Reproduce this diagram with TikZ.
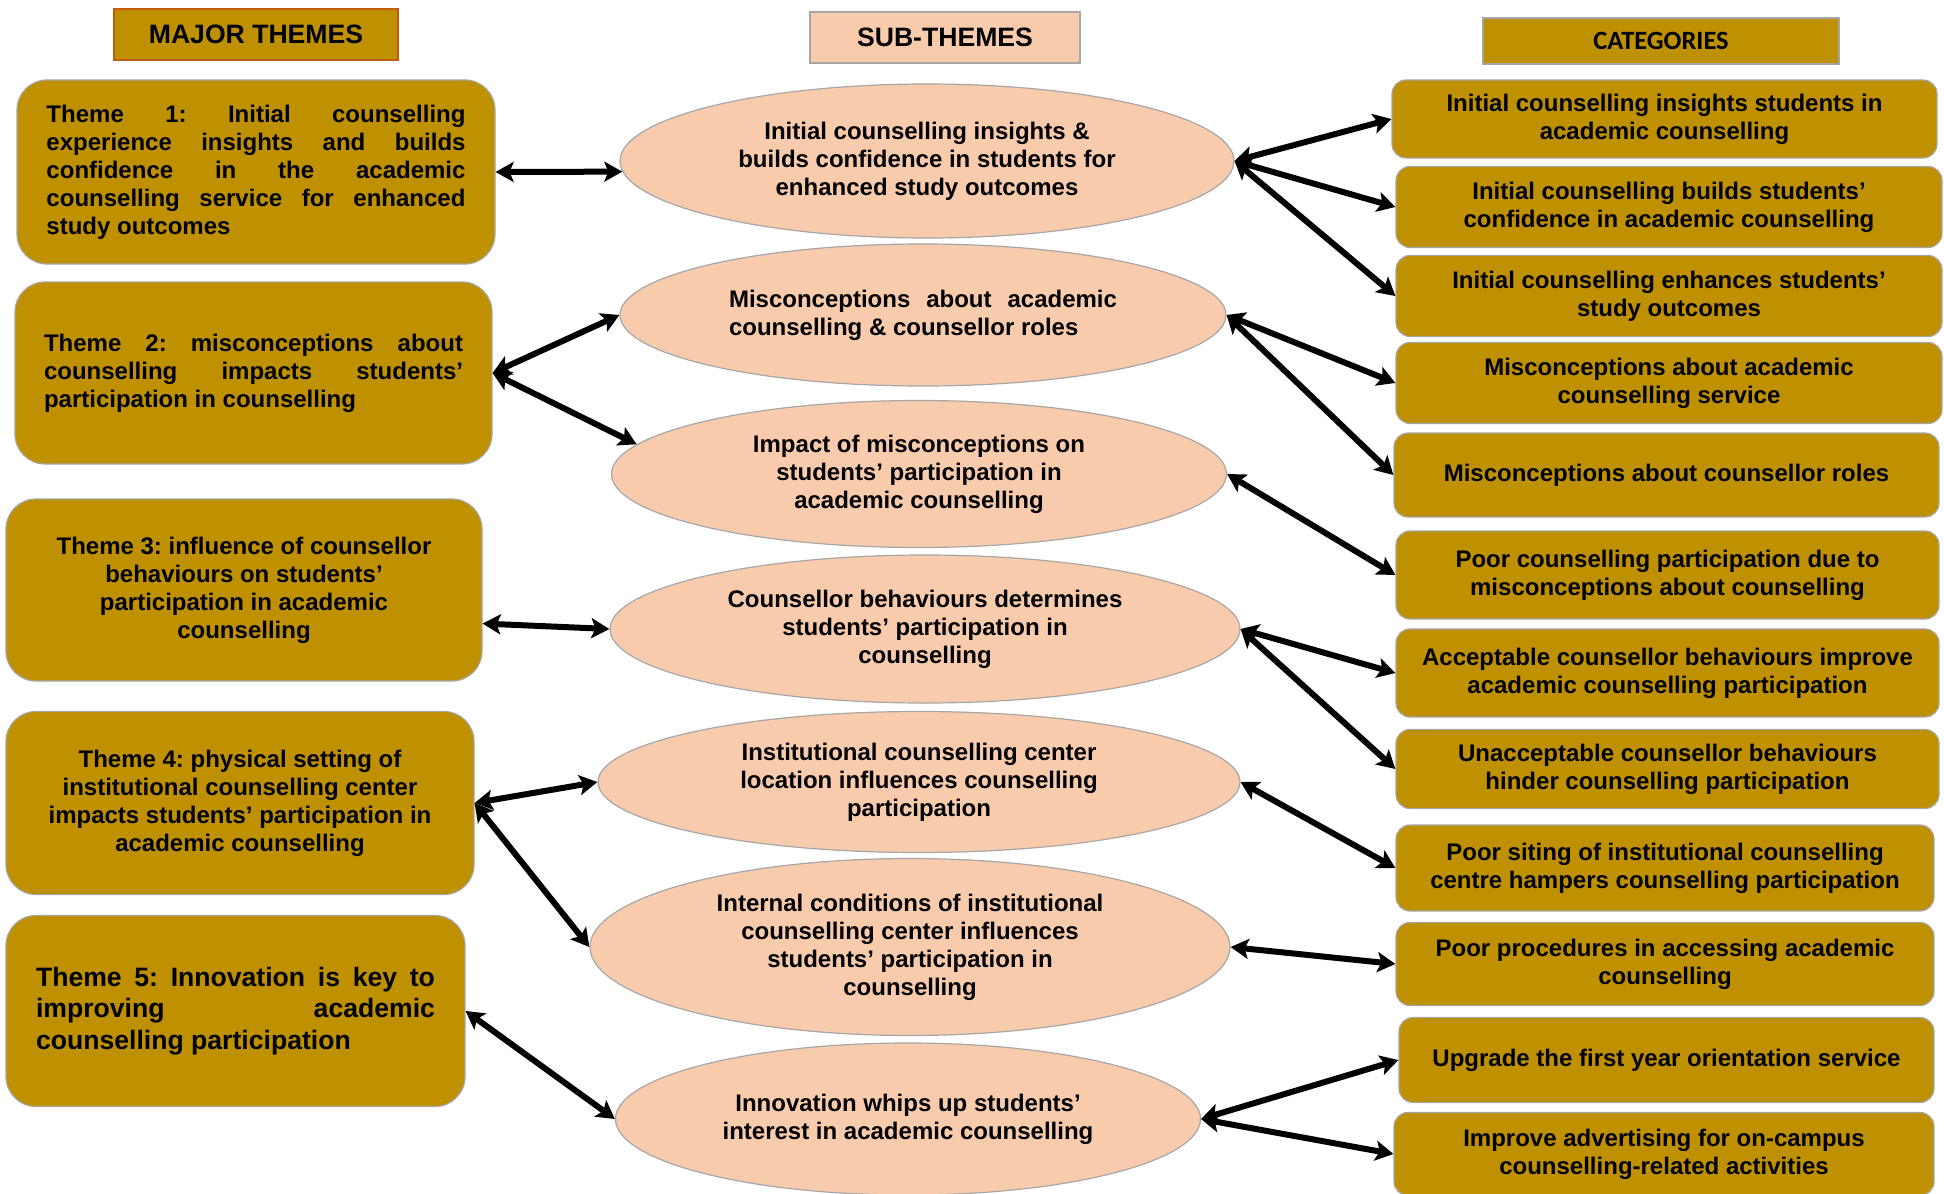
\documentclass[tikz,border=0pt]{standalone}
\usepackage{fontspec}
\setmainfont{Liberation Sans}
\newfontfamily\catfont{Carlito}
\usepackage{tikz}
\usetikzlibrary{shapes.geometric,arrows.meta}
\frenchspacing
\definecolor{gold}{HTML}{BF9000}
\definecolor{peach}{HTML}{F8CBAD}
\definecolor{rim}{HTML}{A6A6A6}
\definecolor{rust}{HTML}{C55A11}
\tikzset{
  head/.style={draw=rim, line width=0.8pt, inner sep=0pt, font=\bfseries\fontsize{13.3}{16}\selectfont},
  theme/.style={draw=rim, fill=gold, line width=0.6pt, rounded corners=15pt, inner sep=0pt, font=\bfseries\fontsize{12}{14}\selectfont},
  sub/.style={ellipse, draw=rim, fill=peach, line width=0.6pt, inner sep=0pt, align=center, font=\bfseries\fontsize{12}{14}\selectfont},
  cat/.style={draw=rim, fill=gold, line width=0.6pt, rounded corners=7pt, inner sep=0pt, align=center, font=\bfseries\fontsize{12}{14}\selectfont},
  link/.style={draw=black, line width=3pt, >={Stealth[length=9pt,width=10pt,inset=2pt]}, <->},
}

\begin{document}
\begin{tikzpicture}[x=0.5pt,y=-0.5pt]
  \useasboundingbox (0,0) rectangle (1944,1194);
  % headers
  \node[head, draw=rust, fill=gold, minimum width=142pt, minimum height=25.5pt] (hmajor) at (256,34.5) {MAJOR THEMES};
  \node[head, fill=peach, minimum width=135pt, minimum height=25.5pt] (hsub) at (945,37.5) {SUB-THEMES};
  \node[head, fill=gold, minimum width=178pt, minimum height=23pt, font=\catfont\bfseries\fontsize{13.2}{16}\selectfont] (hcat) at (1661,41) {CATEGORIES};

  % major themes
  \node[theme, minimum width=239pt, minimum height=92pt, text width=209.5pt, align=justify] (t1) at (256,172)
    {Theme 1: Initial counselling\linebreak experience insights and builds\linebreak confidence in the academic\linebreak counselling service for enhanced\linebreak study outcomes};
  \node[theme, minimum width=238.5pt, minimum height=91pt, text width=209.5pt, align=justify] (t2) at (253.5,373)
    {Theme 2: misconceptions about\linebreak counselling impacts students’\linebreak participation in counselling};
  \node[theme, minimum width=238pt, minimum height=91pt, align=center] (t3) at (244,590)
    {Theme 3: influence of counsellor\\behaviours on students’\\participation in academic\\counselling};
  \node[theme, minimum width=234pt, minimum height=91.5pt, align=center] (t4) at (240,803)
    {Theme 4: physical setting of\\institutional counselling center\\impacts students’ participation in\\academic counselling};
  \node[theme, minimum width=229.5pt, minimum height=95.5pt, text width=199.5pt, align=justify, font=\bfseries\fontsize{13.3}{15.8}\selectfont] (t5) at (235.5,1011)
    {Theme 5: Innovation is key to\linebreak improving academic\linebreak counselling participation};

  % sub-themes
  \node[sub, minimum width=307pt, minimum height=77pt] (e1) at (927,161)
    {Initial counselling insights \&\\builds confidence in students for\\enhanced study outcomes};
  \node[sub, minimum width=303pt, minimum height=71pt, text width=194pt, align=justify] (e2) at (923,315)
    {Misconceptions about academic\linebreak counselling \& counsellor roles};
  \node[sub, minimum width=307.5pt, minimum height=73.5pt] (e3) at (919,474)
    {Impact of misconceptions on\\students’ participation in\\academic counselling};
  \node[sub, minimum width=315pt, minimum height=74pt] (e4) at (925,629)
    {Counsellor behaviours determines\\students’ participation in\\counselling};
  \node[sub, minimum width=321pt, minimum height=70.5pt] (e5) at (919,782)
    {Institutional counselling center\\location influences counselling\\participation};
  \node[sub, minimum width=320pt, minimum height=88.5pt] (e6) at (910,947)
    {Internal conditions of institutional\\counselling center influences\\students’ participation in\\counselling};
  \node[sub, minimum width=292.5pt, minimum height=76pt] (e7) at (908,1119)
    {Innovation whips up students’\\interest in academic counselling};

  % categories
  \node[cat, minimum width=272.5pt, minimum height=39pt] (c1) at (1664.5,119)
    {Initial counselling insights students in\\academic counselling};
  \node[cat, minimum width=273pt, minimum height=40.5pt] (c2) at (1669,207)
    {Initial counselling builds students’\\confidence in academic counselling};
  \node[cat, minimum width=273pt, minimum height=40.5pt] (c3) at (1669,296)
    {Initial counselling enhances students’\\study outcomes};
  \node[cat, minimum width=273pt, minimum height=40.5pt] (c4) at (1669,383)
    {Misconceptions about academic\\counselling service};
  \node[cat, minimum width=272.5pt, minimum height=42pt] (c5) at (1666.5,475)
    {Misconceptions about counsellor roles};
  \node[cat, minimum width=271.5pt, minimum height=44pt] (c6) at (1667.5,575)
    {Poor counselling participation due to\\misconceptions about counselling};
  \node[cat, minimum width=271.5pt, minimum height=44pt] (c7) at (1667.5,673)
    {Acceptable counsellor behaviours improve\\academic counselling participation};
  \node[cat, minimum width=271.5pt, minimum height=39.5pt] (c8) at (1667.5,769)
    {Unacceptable counsellor behaviours\\hinder counselling participation};
  \node[cat, minimum width=269pt, minimum height=43pt] (c9) at (1665,868)
    {Poor siting of institutional counselling\\centre hampers counselling participation};
  \node[cat, minimum width=269pt, minimum height=41.5pt] (c10) at (1665,964)
    {Poor procedures in accessing academic\\counselling};
  \node[cat, minimum width=267.5pt, minimum height=42.5pt] (c11) at (1666.5,1060)
    {Upgrade the first year orientation service};
  \node[cat, minimum width=270pt, minimum height=41.5pt] (c12) at (1664,1154)
    {Improve advertising for on-campus\\counselling-related activities};

  % links
  \draw[link] (t1.east) -- (e1.182);
  \draw[link] (t2.east) -- (e2.west);
  \draw[link] (t2.east) -- (e3.174);
  \draw[link] (t3.-8) -- (e4.west);
  \draw[link] (t4.east) -- (e5.west);
  \draw[link] (t4.east) -- (e6.west);
  \draw[link] (t5.east) -- (e7.west);
  \foreach \a/\b in {e1/c1,e1/c2,e1/c3,e2/c4,e2/c5,e3/c6,e4/c7,e4/c8,e5/c9,e6/c10,e7/c11,e7/c12}
    \draw[link] (\a.east) -- (\b.west);
\end{tikzpicture}
\end{document}
